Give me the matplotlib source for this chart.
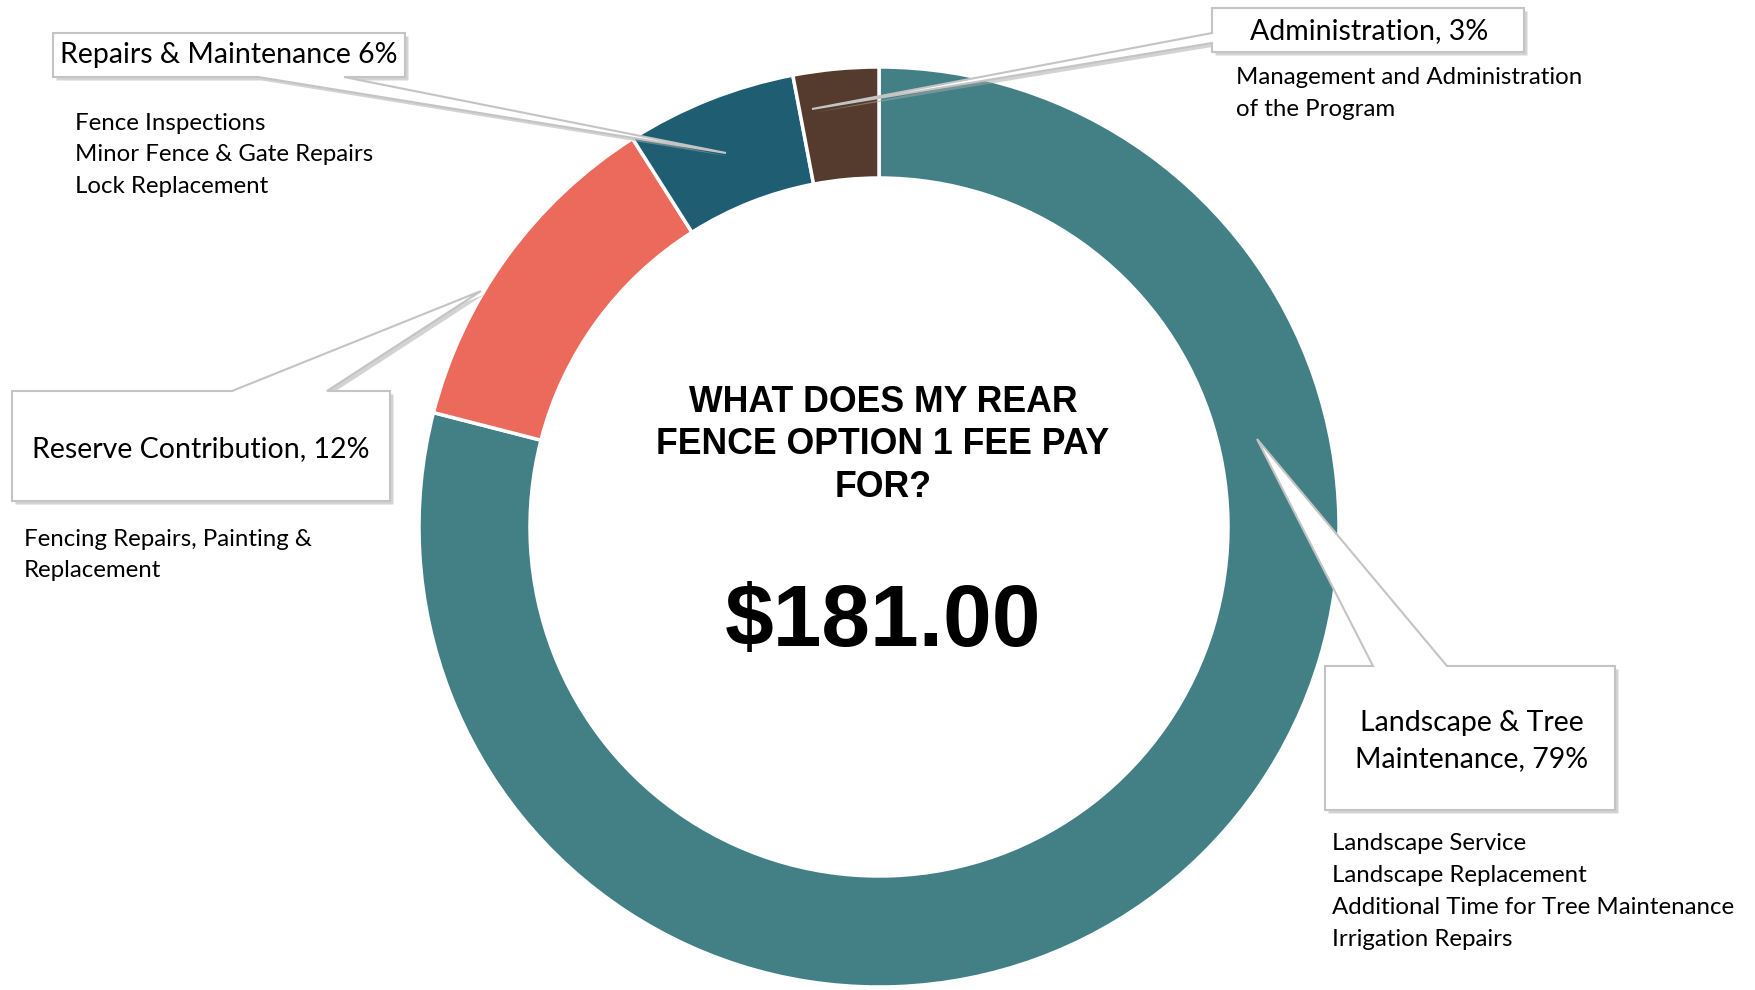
import matplotlib
matplotlib.use("Agg")
import matplotlib.pyplot as plt
import matplotlib.patheffects as pe
from matplotlib.patches import Polygon

# data
categories = ["Landscape & Tree\nMaintenance", "Reserve Contribution",
              "Repairs & Maintenance", "Administration"]
shares = [79, 12, 6, 3]
separators = [", ", ", ", " ", ", "]
colors = ["#428086", "#EC6A5B", "#1F5E72", "#553B2E"]
details = [
    ["Landscape Service", "Landscape Replacement",
     "Additional Time for Tree Maintenance", "Irrigation Repairs"],
    ["Fencing Repairs, Painting &", "Replacement"],
    ["Fence Inspections", "Minor Fence & Gate Repairs", "Lock Replacement"],
    ["Management and Administration", "of the Program"],
]
title = "WHAT DOES MY REAR\nFENCE OPTION 1 FEE PAY\nFOR?"
fee = "$181.00"

W, H = 1756, 990
fig = plt.figure(figsize=(W / 100, H / 100), dpi=100)
ax = fig.add_axes([0, 0, 1, 1])

cx, cy, R, ring = 879, 527, 460, 111
# y axis is flipped, so counterclock in data = clockwise on screen
ax.pie(shares, colors=colors, center=(cx, cy), radius=R, startangle=-90,
       counterclock=True,
       wedgeprops=dict(width=ring, edgecolor="white", linewidth=2.5))
ax.set_xlim(0, W)
ax.set_ylim(H, 0)
ax.set_aspect("equal")
ax.axis("off")

font = "Lato"
shadow = [pe.SimplePatchShadow(offset=(2.5, -2.5), shadow_rgbFace="#a8a8a8", alpha=0.5),
          pe.Normal()]


def callout(box, wedge, tip, side):
    x0, y0, x1, y1 = box
    a, b = wedge
    tx, ty = tip
    if side == "bottom":
        pts = [(x0, y0), (x1, y0), (x1, y1), (b, y1), (tx, ty), (a, y1), (x0, y1)]
    elif side == "top":
        pts = [(x0, y0), (a, y0), (tx, ty), (b, y0), (x1, y0), (x1, y1), (x0, y1)]
    else:  # left
        pts = [(x0, y0), (x1, y0), (x1, y1), (x0, y1), (x0, b), (tx, ty), (x0, a)]
    p = Polygon(pts, closed=True, facecolor="white", edgecolor="#c4c4c4",
                linewidth=1.5, zorder=5)
    p.set_path_effects(shadow)
    ax.add_patch(p)


# callout geometry (pixels)
boxes = [(1325, 666, 1615, 810), (12, 391, 390, 501), (53, 33, 405, 77), (1212, 8, 1524, 52)]
wedges = [(1373, 1447), (232, 327), (258, 344), (33, 43)]
tips = [(1257, 439), (481, 291), (726, 153), (812, 109)]
sides = ["top", "top", "bottom", "left"]
label_xy = [(1472, 741), (201, 449), (229, 55), (1369, 31)]
detail_xy = [(1332, 844), (24, 539), (75, 123), (1236, 78)]

for i in range(len(shares)):
    callout(boxes[i], wedges[i], tips[i], sides[i])
    ax.text(label_xy[i][0], label_xy[i][1],
            f"{categories[i]}{separators[i]}{shares[i]}%",
            ha="center", va="center", fontsize=20.5, family=font,
            linespacing=1.5, zorder=6)
    for j, line in enumerate(details[i]):
        ax.text(detail_xy[i][0], detail_xy[i][1] + j * 31.8, line,
                ha="left", va="center", fontsize=17.3, family=font, zorder=6)

ax.text(883, 445, title, ha="center", va="center", fontsize=25.7,
        fontweight="bold", family="Liberation Sans", linespacing=1.29)
ax.text(883, 623, fee, ha="center", va="center", fontsize=63,
        fontweight="bold", family="Liberation Sans")

fig.savefig("out.png", dpi=100, facecolor="white")
